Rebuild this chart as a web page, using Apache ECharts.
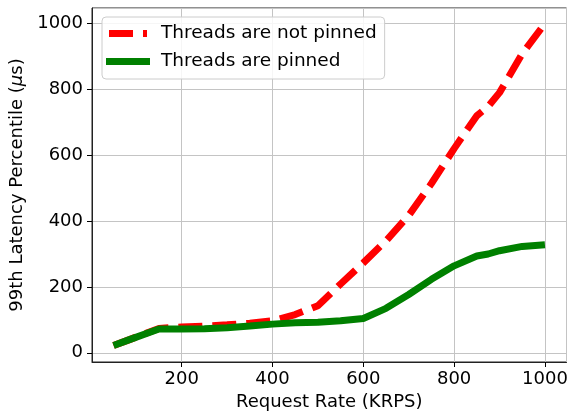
<!DOCTYPE html>
<html>
<head>
<meta charset="utf-8">
<script src="https://cdn.jsdelivr.net/npm/echarts@6/dist/echarts.min.js"></script>
<style>
  html, body { margin: 0; padding: 0; background: #fff; }
  #chart { width: 568px; height: 412px; }
</style>
</head>
<body>
<div id="chart"></div>
<script>
// request rate (KRPS)
const rates = [50, 85, 150, 200, 250, 300, 350, 400, 450, 500, 550, 600, 650, 700, 750, 800, 850, 875, 900, 950, 1000]
// 99th percentile latency (us)
const notPinned = [22, 40, 74, 78, 81, 85, 90, 97, 116, 143, 209, 273, 340, 417, 514, 620, 720, 748, 790, 908, 1000]
const pinned = [22, 40, 72, 72, 73, 76, 81, 87, 91, 93, 97, 104, 135, 177, 223, 264, 294, 300, 310, 323, 328]

const FONT = 'DejaVu Sans'

// legend samples: dashed red and solid green bars, padded to the same width
const ICON_DASHED = 'path://M0,3.5L0.01,3.5M3,0h24v7h-24zM37,0h4v7h-4zM49.99,3.5L50,3.5'
const ICON_SOLID = 'path://M0,0h44v7h-44zM49.99,3.5L50,3.5'

const chart = echarts.init(document.getElementById('chart'))

function pairs(ys) {
  return rates.map((x, i) => [x, ys[i]])
}

const plain = (v) => String(Math.round(v))

chart.setOption({
  animation: false,
  textStyle: { fontFamily: FONT },
  grid: {
    left: 92, right: 1.5, top: 8, bottom: 50,
    outerBoundsMode: 'none',
    containLabel: false,
    show: true, borderColor: '#222', borderWidth: 1,
  },
  legend: {
    orient: 'vertical',
    left: 102, top: 17,
    itemWidth: 50, itemHeight: 7, itemGap: 9,
    padding: [7, 8, 8, 4],
    backgroundColor: 'rgba(255,255,255,0.85)',
    borderColor: '#cccccc', borderWidth: 1, borderRadius: 4,
    textStyle: { fontFamily: FONT, fontSize: 18.5, color: '#000' },
    data: [
      { name: 'Threads are not pinned', icon: ICON_DASHED },
      { name: 'Threads are pinned', icon: ICON_SOLID },
    ],
  },
  xAxis: {
    type: 'value',
    min: 2.5, max: 1047.5, splitNumber: 5,
    name: 'Request Rate (KRPS)',
    nameLocation: 'middle', nameGap: 31,
    nameTextStyle: { fontFamily: FONT, fontSize: 18, color: '#000' },
    axisLine: { show: true, onZero: false, lineStyle: { color: '#222' } },
    axisTick: { show: true, length: 5, lineStyle: { color: '#000' } },
    axisLabel: { fontFamily: FONT, fontSize: 18, color: '#000', margin: 8, formatter: plain, showMinLabel: false, showMaxLabel: false },
    splitLine: { show: true, lineStyle: { color: '#c4c4c4', width: 1 } },
  },
  yAxis: {
    type: 'value',
    min: -28, max: 1047, splitNumber: 5,
    name: '99th Latency Percentile ({i|μ}s)',
    nameLocation: 'middle', nameGap: 61, nameRotate: 90,
    nameTextStyle: {
      fontFamily: FONT, fontSize: 18, color: '#000',
      rich: { i: { fontFamily: FONT, fontSize: 18, fontStyle: 'italic', color: '#000' } },
    },
    axisLine: { show: true, onZero: false, lineStyle: { color: '#222' } },
    axisTick: { show: true, length: 5, lineStyle: { color: '#000' } },
    axisLabel: { fontFamily: FONT, fontSize: 18, color: '#000', margin: 9, formatter: plain, showMinLabel: false, showMaxLabel: false },
    splitLine: { show: true, lineStyle: { color: '#c4c4c4', width: 1 } },
  },
  series: [
    {
      name: 'Threads are not pinned',
      type: 'line',
      data: pairs(notPinned),
      symbol: 'none',
      itemStyle: { color: '#ff0000' },
      lineStyle: { color: '#ff0000', width: 7, type: [24, 10], cap: 'butt' },
    },
    {
      name: 'Threads are pinned',
      type: 'line',
      data: pairs(pinned),
      symbol: 'none',
      itemStyle: { color: '#008000' },
      lineStyle: { color: '#008000', width: 7, cap: 'butt' },
    },
  ],
})
</script>
</body>
</html>
